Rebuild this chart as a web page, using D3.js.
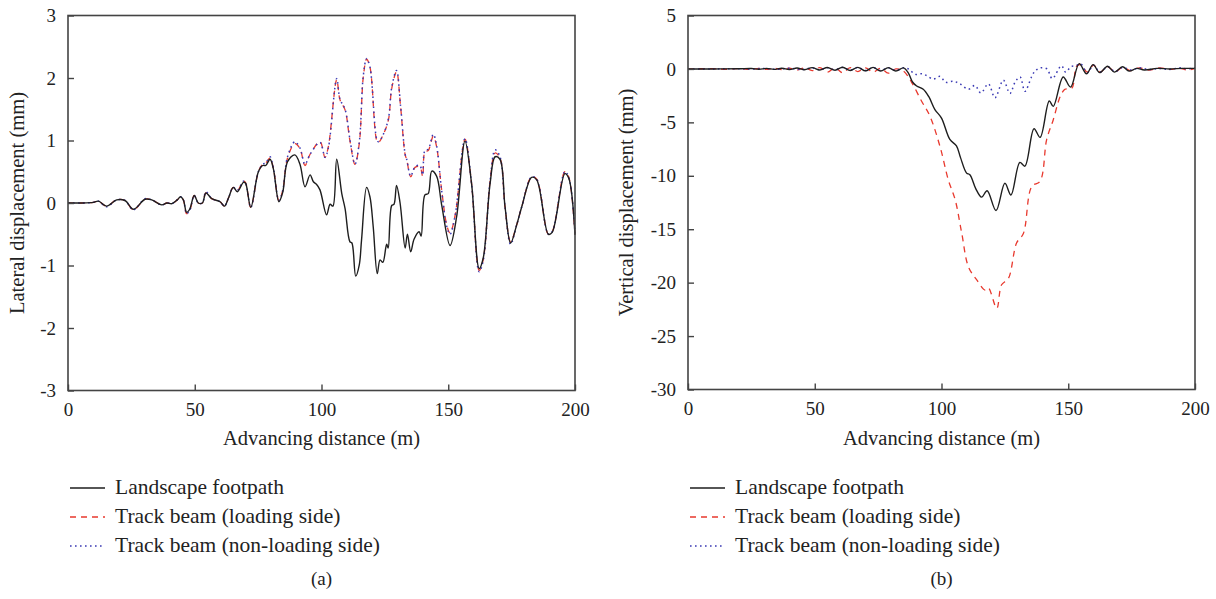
<!DOCTYPE html>
<html>
<head>
<meta charset="utf-8">
<script src="https://cdn.jsdelivr.net/npm/d3@7"></script>
<style>
  html, body { margin: 0; padding: 0; background: #fff; }
  svg { display: block; }
  text { font-family: "Liberation Serif", "DejaVu Serif", serif; fill: #222; }
</style>
</head>
<body>
<svg id="chart" width="1216" height="599"></svg>
<script>
// ---------- data ----------
const seriesNames = ["Landscape footpath", "Track beam (loading side)", "Track beam (non-loading side)"];
const xTicks = [0, 50, 100, 150, 200];
const yTicksA = [-3, -2, -1, 0, 1, 2, 3];
const yTicksB = [-30, -25, -20, -15, -10, -5, 0, 5];

// Panel (a): lateral displacement (mm) vs advancing distance (m)
const latFootpath = [[0,0],[5,0],[10,0.01],[12,0.03],[15.2,-0.05],[19.2,0.05],[22.5,0.04],[25.8,-0.1],[30.4,0.06],[33,0.05],[37,-0.03],[39,0],[41,-0.01],[43.1,0.05],[44.4,0.1],[45.5,0.05],[46.8,-0.15],[48,-0.1],[49.8,0.12],[51.4,0],[53,0],[54.4,0.16],[56.7,0.07],[60,0.02],[61.7,-0.05],[63.3,0.08],[65.2,0.25],[66.8,0.18],[69.2,0.33],[70,0.32],[72.1,-0.07],[75.1,0.5],[76.8,0.6],[78,0.6],[79.7,0.7],[81,0.55],[83.2,0.02],[84.7,0.17],[86.6,0.66],[89.5,0.77],[91.5,0.62],[93.5,0.26],[95.5,0.45],[96.8,0.34],[98,0.3],[99.4,0.21],[102,-0.19],[103.4,-0.02],[104.5,-0.05],[106,0.7],[108,0.15],[109.3,-0.09],[111.2,-0.62],[112,-0.64],[113.5,-1.17],[114.9,-0.99],[115.8,-0.59],[117.8,0.25],[119.1,0.1],[120.4,-0.38],[122,-1.13],[123.1,-0.91],[124.2,-0.95],[125.7,-0.66],[126.3,-0.72],[127.7,-0.04],[128.6,-0.02],[129.6,0.28],[131,0],[133,-0.72],[133.9,-0.5],[135.2,-0.78],[136.5,-0.58],[138.5,-0.46],[139.3,-0.53],[140.8,0.13],[142.1,0.15],[143.5,0.51],[145.4,0.43],[147.4,-0.03],[150.7,-0.68],[153.3,-0.22],[156.6,0.99],[159.2,0.31],[162.2,-1.05],[163.8,-0.88],[166.5,0.31],[168.5,0.74],[170.4,0.7],[172.4,-0.06],[174.6,-0.64],[177,-0.35],[179,-0.06],[182.9,0.41],[184.9,0.37],[189.5,-0.5],[191,-0.47],[196,0.47],[197.5,0.4],[200,-0.51]];
const latLoading = [[0,0],[5,0],[10,0.01],[12,0.03],[15.2,-0.05],[19.2,0.05],[22.5,0.04],[25.8,-0.11],[30.4,0.06],[33,0.05],[37,-0.03],[39,0],[41,-0.01],[43.1,0.05],[44.4,0.1],[45.5,0.05],[46.8,-0.17],[48,-0.12],[49.8,0.12],[51.4,0],[53,0],[54.4,0.16],[56.7,0.07],[60,0.02],[61.7,-0.05],[63.3,0.08],[65.2,0.25],[66.8,0.2],[69.2,0.35],[70,0.33],[72.1,-0.07],[75.1,0.5],[76.8,0.62],[78,0.64],[79.7,0.72],[81,0.56],[83.2,0.04],[84.7,0.2],[86.6,0.72],[89.5,0.95],[91.5,0.87],[93.5,0.6],[95.5,0.78],[99.4,0.98],[101.4,0.73],[102.7,0.9],[106,1.97],[107.3,1.65],[109.3,1.49],[111.2,1.0],[113.2,0.62],[114.9,0.95],[116.5,2.02],[117.8,2.3],[119.1,2.18],[121.8,1.0],[122.5,0.97],[124.4,1.1],[126.4,1.33],[127.7,1.83],[129.6,2.1],[131.2,1.54],[133,0.77],[133.6,0.7],[135.2,0.42],[136.9,0.57],[138.8,0.58],[139.9,0.43],[140.8,0.82],[142.1,0.84],[144.1,1.07],[145.4,0.9],[147.4,0.21],[149.4,-0.35],[150.7,-0.48],[152.7,-0.2],[156.6,1.02],[159.2,0.31],[162.2,-1.08],[163.8,-0.9],[166.5,0.35],[168.5,0.8],[170.4,0.72],[172.4,-0.06],[174.6,-0.62],[177,-0.35],[179,-0.06],[182.9,0.42],[184.9,0.38],[189.5,-0.5],[191,-0.46],[196,0.5],[197.5,0.42],[200,-0.5]];
const latNonLoading = [[0,0],[5,0],[10,0.01],[12,0.03],[15.2,-0.06],[19.2,0.05],[22.5,0.04],[25.8,-0.11],[30.4,0.07],[33,0.05],[37,-0.03],[39,0],[41,-0.01],[43.1,0.05],[44.4,0.1],[45.5,0.05],[46.8,-0.17],[48,-0.12],[49.8,0.12],[51.4,0],[53,0],[54.4,0.18],[56.7,0.07],[60,0.02],[61.7,-0.05],[63.3,0.08],[65.2,0.25],[66.8,0.2],[69.2,0.35],[70,0.33],[72.1,-0.07],[75.1,0.5],[76.8,0.62],[78,0.64],[79.7,0.74],[81,0.56],[83.2,0.04],[84.7,0.2],[86.6,0.74],[89.5,0.98],[91.5,0.88],[93.5,0.62],[95.5,0.78],[99.4,0.97],[101.4,0.73],[102.7,0.88],[106,1.99],[107.3,1.66],[109.3,1.5],[111.2,1.02],[113.2,0.62],[114.9,0.97],[116.5,2.04],[117.8,2.31],[119.1,2.18],[121.8,1.02],[122.5,0.98],[124.4,1.1],[126.4,1.35],[127.7,1.85],[129.6,2.12],[131.2,1.55],[133,0.78],[133.6,0.7],[135.2,0.43],[136.9,0.58],[138.8,0.6],[139.9,0.45],[140.8,0.84],[142.1,0.86],[144.1,1.1],[145.4,0.92],[147.4,0.2],[149.4,-0.37],[150.7,-0.5],[152.7,-0.2],[156.6,1.03],[159.2,0.31],[162.2,-1.1],[163.8,-0.92],[166.5,0.35],[168.5,0.85],[170.4,0.74],[172.4,-0.06],[174.6,-0.66],[177,-0.35],[179,-0.06],[182.9,0.42],[184.9,0.38],[189.5,-0.5],[191,-0.46],[196,0.5],[197.5,0.42],[200,-0.48]];

// Panel (b): vertical displacement (mm) vs advancing distance (m)
const vertFootpath = [[0,0],[10,0],[20,0.01],[25,0.04],[28,-0.03],[31,0.05],[34,-0.04],[37,0.06],[40,-0.06],[43,0.08],[46,-0.08],[49,0.12],[52,-0.1],[55,0.14],[58,-0.12],[61,0.16],[64,-0.15],[67,0.15],[70,-0.18],[73,0.15],[76,-0.2],[79,0.12],[82,-0.2],[85,0.1],[86.9,-0.37],[88.5,-1.2],[90.2,-1.6],[92.8,-1.9],[95,-2.6],[97.4,-3.8],[100,-4.6],[103.3,-6.6],[105.9,-7.2],[107.5,-8.3],[109.9,-9.75],[111.2,-9.9],[113.5,-11.2],[115.8,-12.0],[118,-11.4],[121.5,-13.25],[125,-10.7],[127.4,-11.8],[130.9,-8.75],[132.9,-9.1],[136.5,-5.6],[138.9,-6.4],[142.5,-3.0],[144.1,-3.5],[148,-0.75],[150.9,-1.7],[154.3,0.5],[157.2,-0.45],[159.8,0.4],[162.4,-0.35],[165.5,0.25],[168.2,-0.3],[171.4,0.2],[174,-0.2],[177,0.05],[180,-0.1],[185,0.05],[190,0],[195,0.05],[200,0.05]];
const vertLoading = [[0,0],[10,0.02],[15,-0.03],[20,0.03],[25,-0.04],[28,0.04],[31,-0.05],[34,0.06],[37,-0.06],[40,0.08],[43,-0.1],[46,0.1],[49,-0.15],[52,0.12],[55,-0.3],[58,0.1],[61,-0.35],[64,0.12],[67,-0.25],[70,0.1],[73,-0.3],[76,0.05],[79,-0.4],[82,0],[85,-0.2],[88.2,-1.25],[92.1,-3.0],[95.4,-4.4],[99.4,-7.25],[102.7,-10.4],[105.4,-12.25],[108,-15.4],[110.6,-18.5],[113.9,-19.75],[117.2,-20.7],[118.5,-20.5],[121.8,-22.4],[123.7,-20.2],[126.4,-19.6],[129.6,-16.3],[132.3,-15.4],[135.6,-11.0],[138.9,-10.5],[141.5,-6.6],[144.1,-4.75],[146.8,-2.6],[148.7,-1.9],[151.4,-1.8],[153.3,0.25],[155,0.4],[157.5,-0.3],[160,0.35],[162.5,-0.3],[165.5,0.2],[168.5,-0.25],[171.5,0.15],[174.5,-0.15],[178,0.1],[182,-0.1],[186,0.1],[190,-0.05],[194,0.05],[197,-0.1],[200,0.05]];
const vertNonLoading = [[0,0],[10,0],[20,0.02],[25,-0.02],[30,0.05],[35,-0.04],[40,0.07],[45,-0.06],[49,0.1],[52,-0.08],[55,0.12],[58,-0.1],[61,0.14],[64,-0.12],[67,0.13],[70,-0.15],[73,0.12],[76,-0.15],[79,0.1],[82,-0.15],[85,0.1],[87.3,-0.05],[89.5,-0.5],[92.1,-0.45],[94,-0.6],[96.7,-0.95],[99.4,-0.7],[101.7,-1.25],[104.6,-1.15],[107.3,-1.4],[110.6,-1.9],[113.2,-1.55],[115.5,-2.25],[118.5,-1.4],[121.1,-2.7],[124.4,-1.05],[127,-2.3],[129,-1.25],[131,-0.75],[132.9,-2.1],[135.6,-0.7],[136.9,-0.2],[139,0.1],[141.6,0],[143.7,-0.9],[147.3,0.3],[149,-0.3],[151,0.2],[153,0.3],[155,0.45],[157.5,-0.35],[160,0.35],[162.5,-0.3],[165.5,0.2],[168.5,-0.25],[171.5,0.15],[174.5,-0.1],[178,0.1],[182,-0.05],[186,0.05],[190,-0.05],[194,0.1],[197,0],[200,0.1]];

// ---------- styles ----------
const styles = [
  { color: "#1e1e1e", dash: null, width: 1.4 },
  { color: "#e8392e", dash: "6,5", width: 1.3 },
  { color: "#3a3ab4", dash: "1.6,3.4", width: 1.5 }
];

const svg = d3.select("#chart");
const fmt = d => String(d);

function panel(cfg) {
  const x = d3.scaleLinear().domain([0, 200]).range([cfg.left, cfg.right]);
  const y = d3.scaleLinear().domain(cfg.yDomain).range([cfg.bottom, cfg.top]);
  const g = svg.append("g");

  const line = d3.line().x(d => x(d[0])).y(d => y(d[1])).curve(d3.curveCatmullRom.alpha(0.5));

  const order = [1, 2, 0];
  order.forEach(i => {
    g.append("path")
      .datum(cfg.series[i])
      .attr("fill", "none")
      .attr("stroke", styles[i].color)
      .attr("stroke-width", styles[i].width)
      .attr("stroke-dasharray", styles[i].dash)
      .attr("d", line);
  });

  // frame
  g.append("rect")
    .attr("x", cfg.left).attr("y", cfg.top)
    .attr("width", cfg.right - cfg.left).attr("height", cfg.bottom - cfg.top)
    .attr("fill", "none").attr("stroke", "#444").attr("stroke-width", 1.6);

  // axes
  const xAxis = d3.axisBottom(x).tickValues(xTicks).tickFormat(fmt).tickSizeInner(-6).tickSizeOuter(0).tickPadding(12);
  const gx = g.append("g").attr("transform", `translate(0,${cfg.bottom})`).call(xAxis);
  const yAxis = d3.axisLeft(y).tickValues(cfg.yTicks).tickFormat(fmt).tickSizeInner(-6).tickSizeOuter(0).tickPadding(12);
  const gy = g.append("g").attr("transform", `translate(${cfg.left},0)`).call(yAxis);
  [gx, gy].forEach(a => {
    a.select(".domain").remove();
    a.selectAll(".tick line").attr("stroke", "#444").attr("stroke-width", 1.4);
    a.selectAll(".tick text").style("font-family", '"Liberation Serif", serif').style("font-size", "19px").attr("fill", "#222");
  });

  // axis titles
  g.append("text")
    .attr("x", (cfg.left + cfg.right) / 2).attr("y", 445)
    .attr("text-anchor", "middle").style("font-size", "20.5px")
    .text("Advancing distance (m)");
  g.append("text")
    .attr("transform", `translate(${cfg.yTitleX},${(cfg.top + cfg.bottom) / 2}) rotate(-90)`)
    .attr("text-anchor", "middle").style("font-size", "20.5px")
    .text(cfg.yTitle);

  // legend
  seriesNames.forEach((name, i) => {
    const ly = 488 + i * 29;
    g.append("line")
      .attr("x1", cfg.left + 2).attr("x2", cfg.left + 37)
      .attr("y1", ly).attr("y2", ly)
      .attr("stroke", styles[i].color)
      .attr("stroke-width", styles[i].width)
      .attr("stroke-dasharray", styles[i].dash);
    g.append("text")
      .attr("x", cfg.left + 47).attr("y", ly + 6)
      .style("font-size", "21.5px")
      .text(name);
  });

  // panel label
  g.append("text")
    .attr("x", (cfg.left + cfg.right) / 2).attr("y", 585)
    .attr("text-anchor", "middle").style("font-size", "19px")
    .text(cfg.label);
}

panel({
  left: 68, right: 575, top: 15.5, bottom: 390.5,
  yDomain: [-3, 3], yTicks: yTicksA,
  series: [latFootpath, latLoading, latNonLoading],
  yTitle: "Lateral displacement (mm)", yTitleX: 24, label: "(a)"
});
panel({
  left: 688, right: 1195, top: 15.5, bottom: 389.5,
  yDomain: [-30, 5], yTicks: yTicksB,
  series: [vertFootpath, vertLoading, vertNonLoading],
  yTitle: "Vertical displacement (mm)", yTitleX: 633, label: "(b)"
});
</script>
</body>
</html>
